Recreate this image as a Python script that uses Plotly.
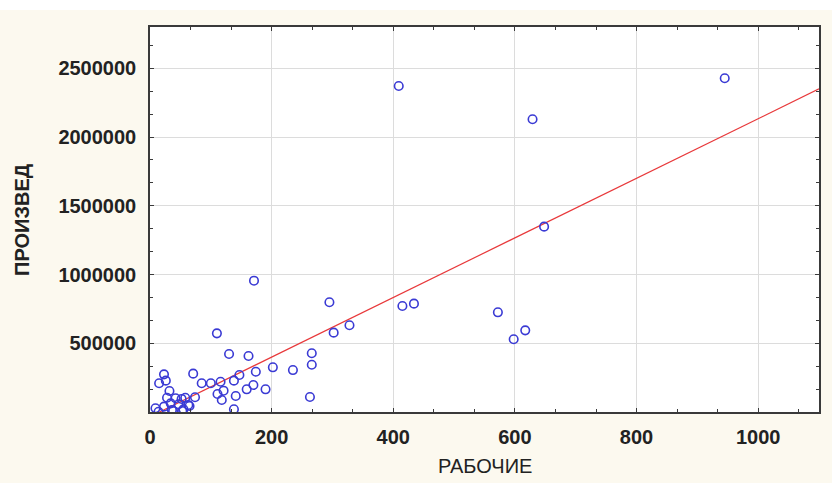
import plotly.graph_objects as go

# ---- data ----
rabochie = [945, 409, 629, 648, 171, 295, 415, 434, 572, 598, 617, 302, 328,
            110, 130, 162, 266, 266, 202, 235, 174, 71, 147, 138, 170, 159,
            190, 85, 100, 116, 121, 111, 141, 118, 138, 263, 15, 23, 26, 32,
            28, 42, 52, 58, 74, 34, 47, 63, 9, 23, 36, 55, 14, 38, 53, 65]
proizved = [2427000, 2371000, 2129000, 1348000, 955000, 798000, 771000, 788000,
            725000, 529000, 594000, 577000, 631000, 572000, 422000, 407000,
            427000, 344000, 325000, 305000, 293000, 279000, 269000, 228000,
            196000, 165000, 165000, 209000, 209000, 220000, 155000, 131000,
            116000, 87000, 20000, 109000, 209000, 274000, 228000, 153000,
            104000, 100000, 95000, 104000, 107000, 63000, 56000, 51000, 27000,
            39000, 15000, 20000, 2000, 7000, 7000, 44000]

fit_x = [0, 1100]
fit_y = [-34000, 2350000]

x_ticks = [0, 200, 400, 600, 800, 1000]
y_ticks = [500000, 1000000, 1500000, 2000000, 2500000]

x_title = "РАБОЧИЕ"
y_title = "ПРОИЗВЕД"

# ---- figure ----
fig = go.Figure()
fig.add_trace(go.Scatter(
    x=fit_x, y=fit_y, mode="lines",
    line=dict(color="#E8393B", width=1.2), showlegend=False, hoverinfo="skip"))
fig.add_trace(go.Scatter(
    x=rabochie, y=proizved, mode="markers",
    marker=dict(symbol="circle-open", size=8.5, color="#3A3AD4",
                line=dict(width=1.6, color="#3A3AD4")),
    showlegend=False))

tickfont = dict(family="Liberation Sans Narrow, Liberation Sans", size=20,
                color="#222222", weight="bold")
axis_common = dict(
    showline=True, linecolor="#3A3A3A", linewidth=1.5, mirror="allticks",
    ticks="inside", ticklen=4, tickcolor="#3A3A3A", tickwidth=1,
    showgrid=True, gridcolor="#DCDCDC", gridwidth=1,
    zeroline=False, tickfont=tickfont,
)

fig.update_xaxes(range=[0, 1100], tickvals=x_ticks, ticktext=[str(v) for v in x_ticks],
                 minor=dict(dtick=200 / 3, tick0=0, ticks="inside", ticklen=3,
                            tickcolor="#3A3A3A", showgrid=False),
                 ticklabelstandoff=6, **axis_common)
fig.update_yaxes(range=[0, 2800000], tickvals=y_ticks, ticktext=[str(v) for v in y_ticks],
                 minor=dict(dtick=500000 / 3, tick0=0, ticks="inside", ticklen=3,
                            tickcolor="#3A3A3A", showgrid=False),
                 ticklabelstandoff=8, **axis_common)

fig.update_layout(
    width=832, height=483,
    margin=dict(l=150, r=11, t=27, b=71),
    paper_bgcolor="#FCF9EF", plot_bgcolor="#FFFFFF",
    shapes=[dict(type="rect", xref="paper", yref="paper", x0=-1, x1=2,
                 y0=(412 - 10) / 385, y1=2,
                 fillcolor="#FFFFFF", line=dict(width=0), layer="below")],
    annotations=[
        dict(text=x_title, xref="paper", yref="paper", x=0.5, y=-(466 - 412) / 385,
             showarrow=False, xanchor="center", yanchor="middle",
             font=dict(family="Liberation Sans", size=20, color="#222222")),
        dict(text=y_title, xref="paper", yref="paper", x=-(150 - 21) / 671, y=0.5,
             showarrow=False, xanchor="center", yanchor="middle", textangle=-90,
             font=dict(family="Liberation Sans", size=20, color="#222222", weight="bold")),
    ],
)

fig.write_html("out.html", config={"displayModeBar": False},
               post_script="document.body.style.margin='0';document.body.style.overflow='hidden';")
